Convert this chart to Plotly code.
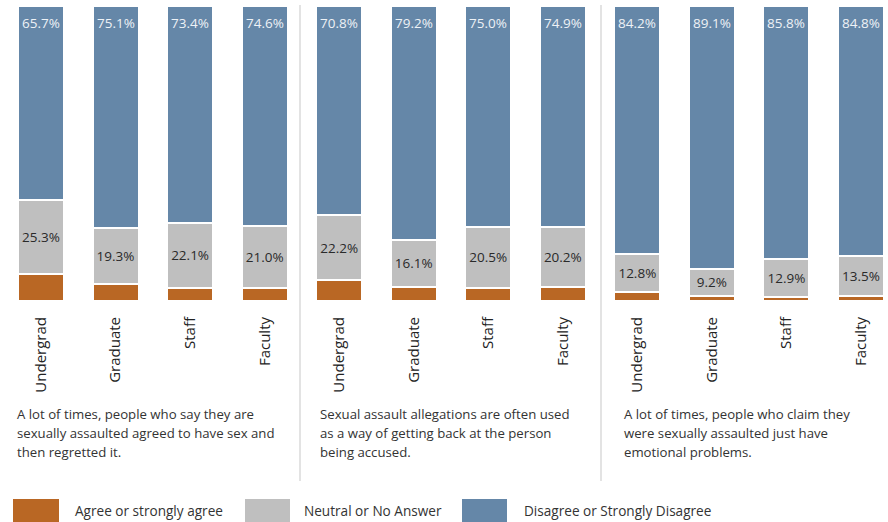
import plotly.graph_objects as go

groups = ["Undergrad", "Graduate", "Staff", "Faculty"]
questions = [
    ["A lot of times, people who say they are", "sexually assaulted agreed to have sex and", "then regretted it."],
    ["Sexual assault allegations are often used", "as a way of getting back at the person", "being accused."],
    ["A lot of times, people who claim they", "were sexually assaulted just have", "emotional problems."],
]
agree = [9.0, 5.6, 4.5, 4.4, 7.0, 4.7, 4.5, 4.9, 3.0, 1.7, 1.3, 1.7]
neutral = [25.3, 19.3, 22.1, 21.0, 22.2, 16.1, 20.5, 20.2, 12.8, 9.2, 12.9, 13.5]
disagree = [65.7, 75.1, 73.4, 74.6, 70.8, 79.2, 75.0, 74.9, 84.2, 89.1, 85.8, 84.8]
series_names = ["Agree or strongly agree", "Neutral or No Answer", "Disagree or Strongly Disagree"]
colors = ["#B96724", "#BFBFBF", "#6587A8"]

W, H = 888, 522
T, B = 6, 221
PH = H - T - B
FONT = "Open Sans"

xs = list(range(len(agree)))
ticktext = groups * 3

def py(p):
    return (H - B - p) / PH

fig = go.Figure()
fig.add_bar(x=xs, y=agree, name=series_names[0], marker=dict(color=colors[0], line=dict(color="white", width=2)))
fig.add_bar(x=xs, y=neutral, name=series_names[1], marker=dict(color=colors[1], line=dict(color="white", width=2)),
            text=[f"{v:.1f}%" for v in neutral], textposition="inside", insidetextanchor="middle",
            textfont=dict(color="#2a2a2a", size=13.5, family=FONT), constraintext="none")
fig.add_bar(x=xs, y=disagree, name=series_names[2], marker=dict(color=colors[2], line=dict(color="white", width=2)))

# disagree labels near the top of each bar
for x, v in zip(xs, disagree):
    fig.add_annotation(x=x, y=100, yanchor="top", yshift=-6, text=f"{v:.1f}%", showarrow=False,
                       font=dict(color="#eef2f6", size=13.5, family=FONT))

sp = (861 - 41) / 11
fig.update_layout(
    width=W, height=H, barmode="stack", bargap=1 - 46 / sp,
    margin=dict(l=0, r=0, t=T, b=B),
    plot_bgcolor="white", paper_bgcolor="white", showlegend=False,
    font=dict(family=FONT, color="#333333"),
    xaxis=dict(range=[-41 / sp, (W - 41) / sp], tickvals=xs, ticktext=ticktext, tickangle=-90,
               showgrid=False, zeroline=False, showline=False, ticks="",
               tickfont=dict(size=15, color="#222222", family=FONT), ticklabelstandoff=12),
    yaxis=dict(range=[0, 100], visible=False),
)

# dividers
for xp in [300, 601]:
    fig.add_shape(type="line", xref="paper", yref="paper", x0=xp / W, x1=xp / W, y0=py(5), y1=py(481),
                  line=dict(color="#E3E3E3", width=2))

# question captions
for i, q in enumerate(questions):
    for j, line in enumerate(q):
        fig.add_annotation(xref="paper", yref="paper", x=[15, 318, 622][i] / W, y=py(414 + 19 * j),
                           xanchor="left", yanchor="middle", text=line, showarrow=False,
                           font=dict(size=13.2, color="#333333", family=FONT))

# legend
for (x0, x1, tx), name, c in zip([(13, 59, 73), (245, 290, 302), (462, 507, 522)], series_names, colors):
    fig.add_shape(type="rect", xref="paper", yref="paper", x0=x0 / W, x1=x1 / W, y0=py(499), y1=py(522),
                  fillcolor=c, line=dict(width=0))
    fig.add_annotation(xref="paper", yref="paper", x=tx / W, y=py(510), xanchor="left", yanchor="middle",
                       text=name, showarrow=False, font=dict(size=13.6, color="#333333", family=FONT))

fig.write_html("out.html", config={"displayModeBar": False},
               post_script="document.body.style.margin='0';document.body.style.overflow='hidden';")
